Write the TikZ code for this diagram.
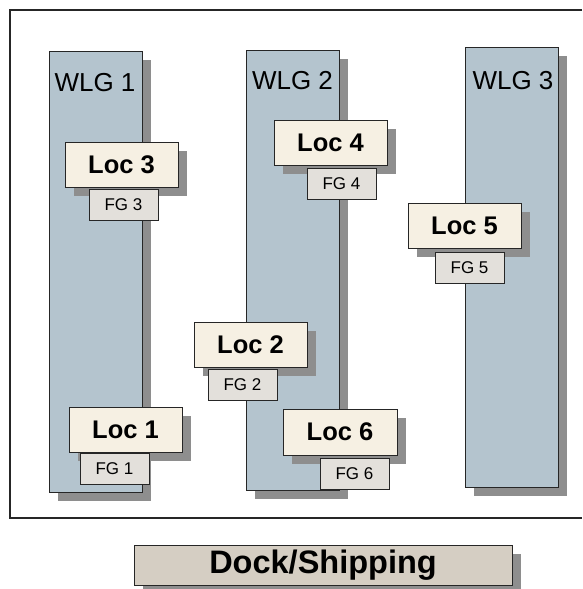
\documentclass[tikz,border=0pt]{standalone}
\usepackage{fontspec}
\setmainfont{Liberation Sans}
\definecolor{wlgfill}{HTML}{B4C4CE}
\definecolor{locfill}{HTML}{F6F0E3}
\definecolor{fgfill}{HTML}{E3E0DB}
\definecolor{dockfill}{HTML}{D5CEC3}
\definecolor{shadowgray}{HTML}{8E8E8E}
\definecolor{edgegray}{HTML}{262626}
\tikzset{
  shadowed/.style={preaction={fill=shadowgray, draw=none, transform canvas={shift={(9pt,-9pt)}}}},
  boxbase/.style={rectangle, draw=edgegray, line width=1pt, inner sep=0pt, text=black},
  wlgbox/.style={boxbase, shadowed, fill=wlgfill, minimum width=93pt, minimum height=440pt},
  wlgtext/.style={anchor=base, font=\fontsize{26}{30}\selectfont, inner sep=0pt},
  locbox/.style={boxbase, shadowed, fill=locfill, minimum width=113pt, minimum height=45pt, font=\fontsize{25.5}{29}\selectfont\bfseries},
  fgbox/.style={boxbase, fill=fgfill, minimum width=69pt, minimum height=31pt, font=\fontsize{17}{20}\selectfont},
  dockbox/.style={boxbase, shadowed, fill=dockfill, minimum width=378pt, minimum height=40pt, font=\fontsize{32.5}{36}\selectfont\bfseries},
}
\begin{document}
\begin{tikzpicture}[x=1pt, y=-1pt]
\useasboundingbox (0,0) rectangle (582,589);
% outer frame
\coordinate (ftr) at (582,10);
\coordinate (ftl) at (10,10);
\coordinate (fbl) at (10,518);
\coordinate (fbr) at (582,518);
\draw[edgegray, line width=1.3pt] (ftr) -- (ftl) -- (fbl) -- (fbr);
% columns
\node[wlgbox, minimum height=441pt] (wlg1) at (95.5,271.5) {};
\node[wlgbox] (wlg2) at (292.5,270) {};
\node[wlgbox] (wlg3) at (511.5,267) {};
\node[wlgtext] (wlg1t) at (95,91) {WLG 1};
\node[wlgtext] (wlg2t) at (292.5,89) {WLG 2};
\node[wlgtext] (wlg3t) at (513,89) {WLG 3};
% locations
\node[locbox] (loc3) at (121.5,164.5) {Loc 3};
\node[locbox] (loc4) at (330.5,142.5) {Loc 4};
\node[locbox] (loc5) at (464.5,225.5) {Loc 5};
\node[locbox] (loc2) at (250.5,344.5) {Loc 2};
\node[locbox] (loc1) at (125.5,429.5) {Loc 1};
\node[locbox, minimum width=114pt, minimum height=46pt] (loc6) at (340,432) {Loc 6};
% FG labels
\node[fgbox] (fg3) at (123.5,204.5) {FG 3};
\node[fgbox] (fg4) at (341.5,184) {FG 4};
\node[fgbox] (fg5) at (469.5,267.5) {FG 5};
\node[fgbox] (fg2) at (242.5,384.5) {FG 2};
\node[fgbox] (fg1) at (114.5,468.5) {FG 1};
\node[fgbox] (fg6) at (354.5,473.5) {FG 6};
% dock
\node[dockbox] (dock) at (323,565) {Dock/Shipping};
\end{tikzpicture}
\end{document}
